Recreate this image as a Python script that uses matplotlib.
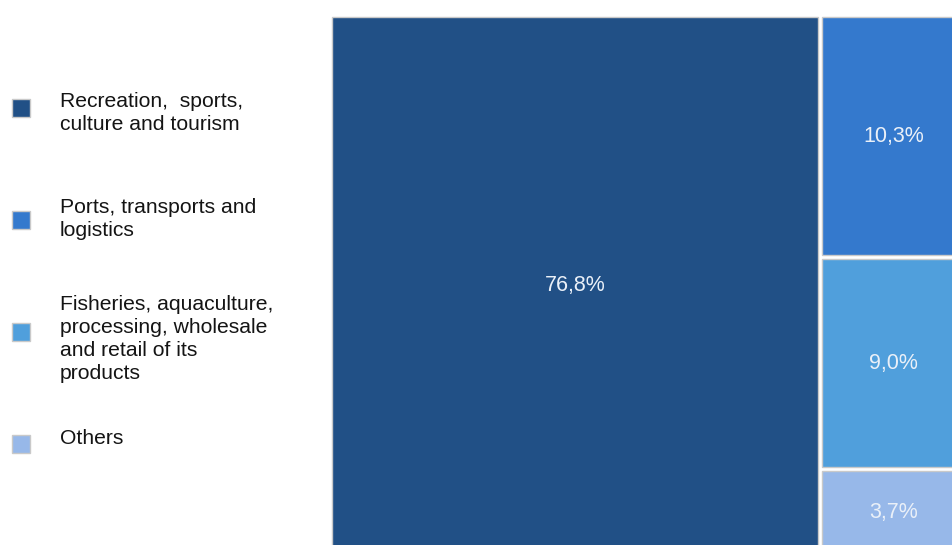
import matplotlib
matplotlib.use("Agg")
import matplotlib.pyplot as plt
from matplotlib.patches import Rectangle

# Share of employment by sector (%)
categories = [
    "Recreation,  sports,\nculture and tourism",
    "Ports, transports and\nlogistics",
    "Fisheries, aquaculture,\nprocessing, wholesale\nand retail of its\nproducts",
    "Others",
]
shares = [76.8, 10.3, 9.0, 3.7]
share_labels = ["76,8%", "10,3%", "9,0%", "3,7%"]
colors = ["#215086", "#3479cd", "#509fdc", "#97b8e9"]

plt.rcParams["font.family"] = ["Liberation Sans", "DejaVu Sans"]


def worst_ratio(row, side):
    s = sum(row)
    return max(max(side * side * r / (s * s), (s * s) / (side * side * r)) for r in row)


def squarify(values, x, y, w, h):
    """Squarified treemap layout; values are areas, returns (x, y, w, h) per value."""
    rects = []
    vals = list(values)
    while vals:
        side = min(w, h)
        row = [vals[0]]
        i = 1
        while i < len(vals) and worst_ratio(row + [vals[i]], side) <= worst_ratio(row, side):
            row.append(vals[i])
            i += 1
        vals = vals[i:]
        s = sum(row)
        if w >= h:
            rw = s / h
            cy = y + h
            for r in row:
                rh = r / rw
                rects.append((x, cy - rh, rw, rh))
                cy -= rh
            x += rw
            w -= rw
        else:
            rh = s / w
            cx = x
            for r in row:
                rw = r / rh
                rects.append((cx, y + h - rh, rw, rh))
                cx += rw
            h -= rh
    return rects


W, H = 637.0, 541.0
total = sum(shares)
areas = [v / total * W * H for v in shares]
rects = squarify(areas, 0, 0, W, H)

fig = plt.figure(figsize=(9.52, 5.45), dpi=100)
ax = fig.add_axes([330 / 952, 1 - 556 / 545, W / 952, H / 545])
ax.set_xlim(0, W)
ax.set_ylim(0, H)
ax.axis("off")

gap = 2.0
for (rx, ry, rw, rh), c, lab in zip(rects, colors, share_labels):
    ax.add_patch(Rectangle((rx + gap, ry + gap), rw - 2 * gap, rh - 2 * gap,
                           facecolor=c, edgecolor="#c9c9c9", linewidth=1.0))
    ax.text(rx + rw / 2, ry + rh / 2, lab, ha="center", va="center",
            color="#eaf0f8", fontsize=15.5)

# Legend column on the left
marker_y = [109, 221, 333, 445]
text_y = [113, 219, 339, 439]
for cat, c, my, ty in zip(categories, colors, marker_y, text_y):
    fig.patches.append(Rectangle((12 / 952, 1 - (my + 8) / 545), 18 / 952, 18 / 545,
                                 transform=fig.transFigure, facecolor=c,
                                 edgecolor="#c9c9c9", linewidth=1.0))
    fig.text(60 / 952, 1 - ty / 545, cat, ha="left", va="center",
             fontsize=15.2, color="#141414", linespacing=1.28)

fig.savefig("out.png", dpi=100)
